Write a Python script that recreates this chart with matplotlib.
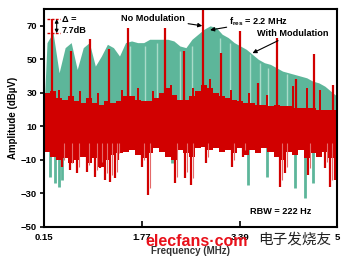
import matplotlib
matplotlib.use("Agg")
import matplotlib.pyplot as plt
import numpy as np

plt.rcParams['font.family'] = ['Liberation Sans', 'DejaVu Sans']
plt.rcParams['mathtext.fontset'] = 'custom'
plt.rcParams['mathtext.bf'] = 'Liberation Sans:bold'
plt.rcParams['mathtext.rm'] = 'Liberation Sans:bold'
plt.rcParams['mathtext.it'] = 'Liberation Sans:bold'

# ---- data (MHz, dBuV) ----
freq = [0.15, 0.2, 0.3, 0.4, 0.5, 0.6, 0.7, 0.8, 0.9, 1.0, 1.1, 1.2, 1.3, 1.4, 1.5, 1.6, 1.7,
        1.8, 1.9, 2.0, 2.1, 2.2, 2.3, 2.4, 2.5, 2.6, 2.7, 2.8, 2.9, 3.0, 3.1, 3.2, 3.3,
        3.4, 3.5, 3.6, 3.7, 3.8, 3.9, 4.0, 4.1, 4.2, 4.3, 4.4, 4.5, 4.6, 4.7, 4.8, 4.9, 5.0]

green_top = [20, 60, 66, 42, 57, 60, 44, 57, 60, 46, 52, 59, 57, 52, 60, 61, 60,
             60, 62, 62, 62, 62, 61, 58, 57, 62, 65, 68, 70, 69, 65, 63, 60,
             58, 56, 53, 50, 48, 47, 45, 43, 42, 41, 40, 39, 37, 36, 34, 31, 28]

red_top = [15, 30, 31, 27, 26, 28, 25, 24, 27, 24, 23, 25, 24, 25, 28, 28, 26,
           25, 25, 27, 30, 33, 29, 26, 26, 28, 31, 35, 33, 30, 28, 27, 26,
           25, 24, 24, 23, 23, 22, 23, 22, 22, 21, 21, 21, 21, 20, 20, 20, 20]

red_bot = [-3, -5, -8, -10, -9, -12, -10, -8, -12, -9, -14, -10, -7, -6, -5, -4, -7,
           -9, -6, -3, -5, -8, -10, -4, -6, -8, -3, -2, -4, -3, -5, -4, -6,
           -3, -7, -4, -6, -3, -5, -8, -10, -5, -7, -4, -9, -6, -8, -5, -9, -9]

# light stripes inside the modulated spectrum
stripe_freq = [1.57, 1.82, 2.02, 2.40, 2.60, 3.06, 3.23, 3.56, 3.73, 3.86, 4.17]
stripe_top = [58, 58, 60, 55, 58, 63, 60, 53, 48, 45, 41]

# harmonic lines without modulation
harm_freq = [0.28, 0.60, 0.91, 1.23, 1.54, 2.15, 2.47, 2.78, 3.08, 3.39, 3.69, 4.01, 4.32, 4.62, 4.93]
harm_top = [74, 55, 62, 56, 69, 69, 55, 80, 54, 67, 36, 63, 38, 53, 35]

# smaller upward red lines
red_up_freq = [0.40, 0.75, 1.05, 1.44, 1.70, 1.95, 2.25, 2.62, 2.90, 3.25, 3.55, 3.85, 4.27, 4.50, 4.72]
red_up_top = [32, 31, 30, 32, 33, 31, 35, 33, 38, 32, 30, 29, 34, 33, 32]

# downward red lines
red_dn_freq = [0.45, 0.58, 0.70, 0.86, 1.00, 1.08, 1.16, 1.24, 1.33, 1.37, 1.77, 1.87, 2.32,
               2.48, 2.59, 2.84, 3.27, 3.44, 4.06, 4.14, 4.52, 4.80, 4.88, 4.97]
red_dn_bot = [-14, -16, -18, -17, -20, -15, -22, -23, -21, -10, -14, -31, -24,
              -21, -25, -12, -14, -8, -26, -18, -19, -15, -26, -22]

# downward green lines
green_dn_freq = [0.25, 0.33, 0.40, 0.45, 2.27, 3.53, 3.84, 4.31, 4.47, 4.60]
green_dn_bot = [-20, -24, -26, -22, -12, -25, -20, -27, -33, -24]

GREEN = '#5db69a'
LIGHT = '#a9dbc9'
RED = '#d10000'
PINK = '#e46a6a'

fig = plt.figure(figsize=(3.5, 2.6), dpi=100)
ax = fig.add_axes([0.1257, 0.127, 0.837, 0.838])

f = np.array(freq)
gt = np.array(green_top)
rt = np.array(red_top)
rb = np.array(red_bot)

# with modulation (green)
ax.fill_between(f, 0, gt, color=GREEN, linewidth=0, zorder=1)
ax.vlines(stripe_freq, 20, stripe_top, color=LIGHT, linewidth=1.0, zorder=1.5)
ax.vlines(green_dn_freq, 0, green_dn_bot, color=GREEN, linewidth=2.0, zorder=1)

# no modulation (red)
ax.bar(f, rt - rb, bottom=rb, width=0.1, color=RED, linewidth=0, zorder=2)
ax.vlines(red_dn_freq, 0, red_dn_bot, color=RED, linewidth=1.6, zorder=2)
ax.vlines(np.array(red_dn_freq) + 0.03, 0, np.array(red_dn_bot) + 4, color=PINK,
          linewidth=0.8, zorder=2)
ax.vlines(red_up_freq, 10, red_up_top, color=RED, linewidth=1.4, zorder=2)
ax.vlines(harm_freq, 10, harm_top, color=RED, linewidth=1.6, zorder=3)

ax.set_xlim(0.15, 5.0)
ax.set_ylim(-50, 80)
ax.set_xticks([0.15, 1.77, 3.39, 5])
ax.set_xticklabels(['0.15', '1.77', '3.39', '5'])
ax.set_yticks([70, 50, 30, 10, -10, -30, -50])
ax.tick_params(axis='x', direction='in', length=4, width=1.2, labelsize=6.8, pad=4)
ax.tick_params(axis='y', direction='out', length=3, width=1.2, labelsize=6.8, pad=2)
for lab in ax.get_xticklabels() + ax.get_yticklabels():
    lab.set_fontweight('bold')
for s in ax.spines.values():
    s.set_linewidth(1.5)
    s.set_zorder(6)

ax.set_xlabel('Frequency (MHz)', fontsize=7, fontweight='bold', labelpad=3, color='#333333')
ax.set_ylabel('Amplitude (dB\u00b5V)', fontsize=7, fontweight='bold', labelpad=2)

# annotations
ax.annotate('No Modulation', xy=(2.77, 70), xytext=(2.49, 74.5), fontsize=6.6, fontweight='bold',
            ha='right', va='center',
            arrowprops=dict(arrowstyle='-|>', color='black', lw=0.8, mutation_scale=6,
                            shrinkA=0, shrinkB=0), zorder=5)
ax.annotate(r'$\mathbf{f_{res}}$ = 2.2 MHz', xy=(2.90, 67.5), xytext=(3.22, 72.5), fontsize=6.6,
            fontweight='bold', ha='left', va='center',
            arrowprops=dict(arrowstyle='-|>', color='black', lw=0.8, mutation_scale=6,
                            shrinkA=0, shrinkB=0), zorder=5)
ax.annotate('With Modulation', xy=(3.56, 53), xytext=(3.68, 65.5), fontsize=6.6, fontweight='bold',
            ha='left', va='center',
            arrowprops=dict(arrowstyle='-|>', color='black', lw=0.8, mutation_scale=6,
                            shrinkA=0, shrinkB=2), zorder=5)
ax.text(3.56, -40.5, 'RBW = 222 Hz', fontsize=6.6, fontweight='bold', ha='left', va='center')

# delta marker
ax.hlines([74, 65.6], 0.2, 0.42, colors=RED, linestyles=(0, (2, 1)), linewidth=1.0, zorder=4)
ax.annotate('', xy=(0.36, 74), xytext=(0.36, 65.6),
            arrowprops=dict(arrowstyle='<|-|>', color='black', lw=0.8, mutation_scale=5,
                            shrinkA=0, shrinkB=0), zorder=5)
ax.text(0.44, 74, '\u0394 =', fontsize=6.6, fontweight='bold', ha='left', va='center', zorder=5)
ax.text(0.44, 67.0, '7.7dB', fontsize=6.6, fontweight='bold', ha='left', va='center', zorder=5)

# watermark
fig.text(145 / 350, 1 - 241 / 260, 'elecfans\u00b7com', fontsize=11.5, fontweight='bold',
         color='#e8101a', ha='left', va='center', zorder=10)
fig.text(258 / 350, 1 - 240 / 260, '电子发烧友', fontsize=10.5,
         family=['Noto Sans CJK SC', 'DejaVu Sans'], color='#222222', ha='left', va='center', zorder=10)

fig.savefig('out.png', dpi=100)
